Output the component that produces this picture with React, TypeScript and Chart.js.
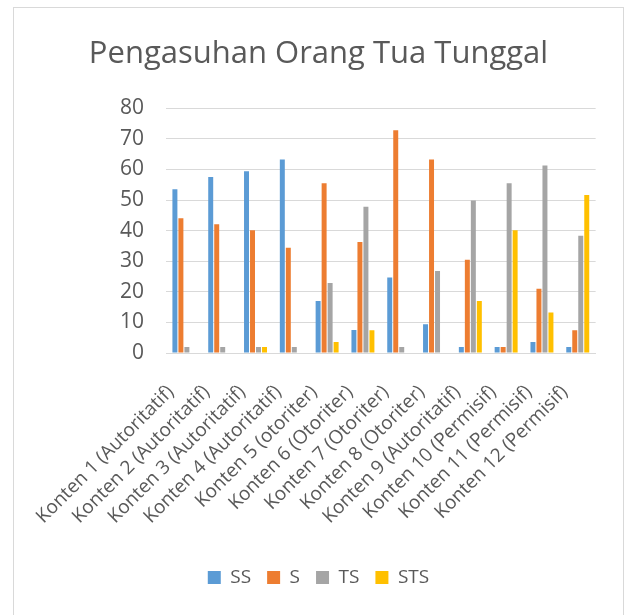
import React, { useEffect, useRef } from "react";
import { Chart, registerables } from "chart.js";

Chart.register(...registerables);

const categories = [
  "Konten 1 (Autoritatif)",
  "Konten 2 (Autoritatif)",
  "Konten 3 (Autoritatif)",
  "Konten 4 (Autoritatif)",
  "Konten 5 (otoriter)",
  "Konten 6 (Otoriter)",
  "Konten 7 (Otoriter)",
  "Konten 8 (Otoriter)",
  "Konten 9 (Autoritatif)",
  "Konten 10 (Permisif)",
  "Konten 11 (Permisif)",
  "Konten 12 (Permisif)",
];

const ssValues = [53.5, 57.5, 59.4, 63.2, 17.0, 7.5, 24.7, 9.4, 2, 2, 3.6, 2];
const sValues = [44.0, 42.1, 40.1, 34.4, 55.5, 36.3, 72.8, 63.2, 30.5, 2, 21.0, 7.4];
const tsValues = [2, 2, 2, 2, 22.9, 47.8, 2, 26.8, 49.8, 55.5, 61.3, 38.3];
const stsValues = [0, 0, 2, 0, 3.6, 7.4, 0, 0, 17.0, 40.1, 13.2, 51.6];

const yTicks = [0, 10, 20, 30, 40, 50, 60, 70, 80];

export default function App() {
  const ref = useRef<HTMLCanvasElement | null>(null);

  useEffect(() => {
    if (!ref.current) return;
    const textColor = "#595959";
    const font = "'Open Sans', 'Liberation Sans', sans-serif";
    const chart = new Chart(ref.current, {
      type: "bar",
      data: {
        labels: categories,
        datasets: [
          { label: "SS", data: ssValues, backgroundColor: "#5B9BD5" },
          { label: "S", data: sValues, backgroundColor: "#ED7D31" },
          { label: "TS", data: tsValues, backgroundColor: "#A5A5A5" },
          { label: "STS", data: stsValues, backgroundColor: "#FFC000" },
        ],
      },
      options: {
        responsive: false,
        animation: false,
        datasets: {
          bar: { categoryPercentage: 0.67, barPercentage: 0.83 },
        },
        layout: { padding: { top: 0, right: 0, bottom: 21, left: 0 } },
        plugins: {
          title: {
            display: true,
            text: "Pengasuhan Orang Tua Tunggal",
            color: textColor,
            font: { family: font, size: 31, weight: "normal", lineHeight: 1.2 },
            padding: { top: 28, bottom: 35 },
          },
          legend: {
            position: "bottom",
            labels: {
              color: textColor,
              font: { family: font, size: 19 },
              boxWidth: 13,
              boxHeight: 13,
              padding: 16,
            },
          },
          tooltip: { enabled: false },
        },
        scales: {
          x: {
            afterFit: (axis: any) => {
              axis.height = 199;
            },
            grid: { display: false, drawTicks: false },
            border: { color: "#d9d9d9" },
            ticks: {
              color: textColor,
              font: { family: font, size: 19 },
              minRotation: 45,
              maxRotation: 45,
              autoSkip: false,
              padding: 28,
              labelOffset: -13,
            },
          },
          y: {
            min: 0,
            max: 80,
            afterBuildTicks: (axis: any) => {
              axis.ticks = yTicks.map((v) => ({ value: v }));
            },
            afterFit: (axis: any) => {
              axis.width = 152;
            },
            grid: { color: "#d9d9d9", drawTicks: false },
            border: { display: false },
            ticks: {
              color: textColor,
              font: { family: font, size: 21 },
              padding: 22,
            },
          },
          yRight: {
            position: "right",
            display: true,
            min: 0,
            max: 80,
            afterFit: (axis: any) => {
              axis.width = 27;
            },
            grid: { display: false, drawTicks: false },
            border: { display: false },
            ticks: { display: false },
          },
        },
      },
    });
    return () => chart.destroy();
  }, []);

  return (
    <div
      style={{
        position: "fixed",
        left: 0,
        top: 0,
        width: 629,
        height: 615,
        overflow: "hidden",
        background: "#fff",
      }}
    >
      <div
        style={{
          position: "absolute",
          left: 13,
          top: 7,
          width: 611,
          height: 612,
          boxSizing: "border-box",
          border: "1px solid #d9d9d9",
        }}
      >
        <canvas ref={ref} width={609} height={610} style={{ display: "block" }} />
      </div>
    </div>
  );
}
